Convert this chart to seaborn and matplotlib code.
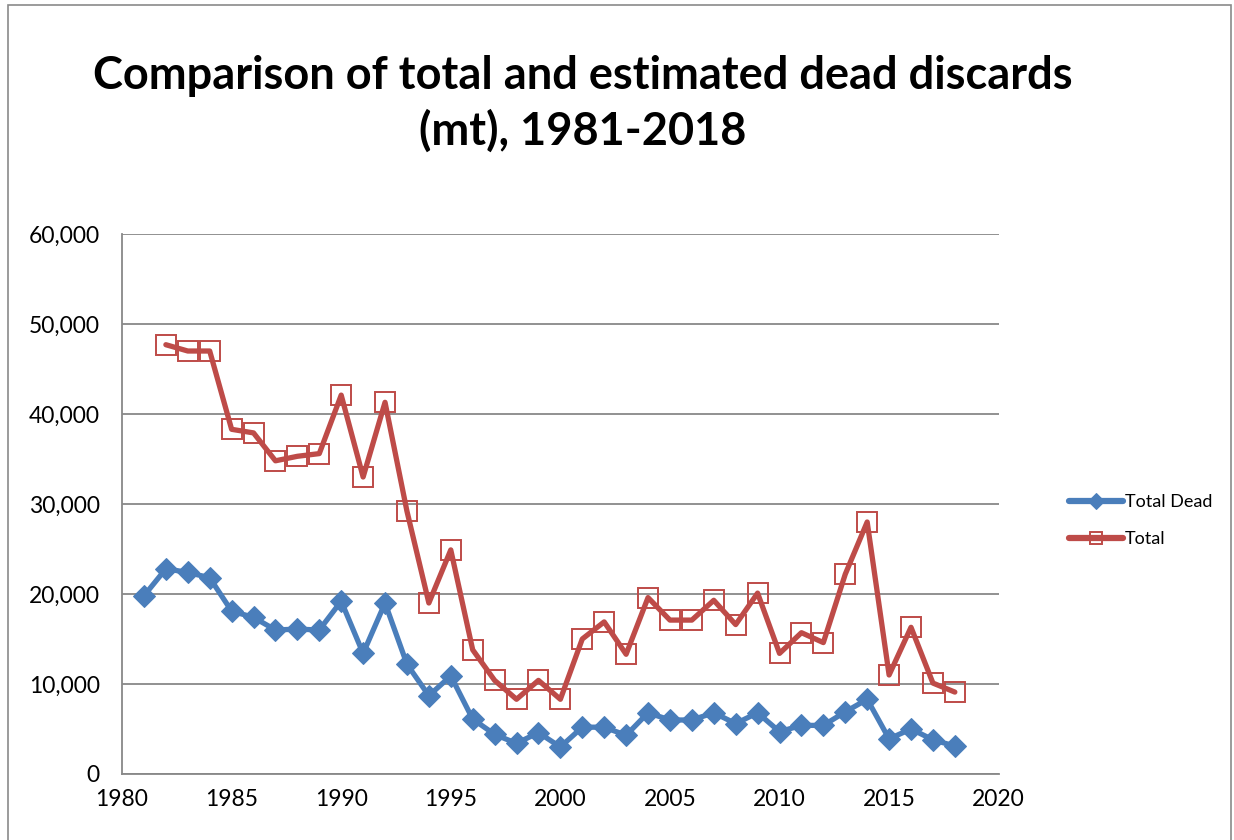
import numpy as np
import pandas as pd
import matplotlib
matplotlib.use('Agg')
import matplotlib.pyplot as plt
import matplotlib.ticker as mticker
from matplotlib.patches import Rectangle
import seaborn as sns

# values (mt)
dead_years = list(range(1981, 2019))
total_dead = [19800, 22800, 22400, 21800, 18100, 17400, 16000, 16100, 16000, 19200,
              13400, 19000, 12200, 8700, 10900, 6100, 4400, 3400, 4600, 3000,
              5200, 5200, 4300, 6800, 6000, 6000, 6800, 5600, 6800, 4700,
              5400, 5400, 6900, 8300, 3900, 5000, 3800, 3100]
total_years = list(range(1982, 2019))
total = [47700, 47000, 47000, 38300, 37900, 34800, 35300, 35600, 42100,
         33000, 41300, 29200, 19000, 24900, 13800, 10400, 8300, 10400, 8300,
         15000, 16900, 13300, 19600, 17100, 17100, 19300, 16600, 20100, 13400,
         15700, 14600, 22200, 28000, 11000, 16300, 10100, 9100]

blue = '#4A7EBB'
red = '#BE4B48'
grid_grey = '#888888'

sns.set_style('white')
plt.rcParams['font.family'] = ['Lato', 'DejaVu Sans']
plt.rcParams['text.color'] = 'black'

fig = plt.figure(figsize=(12.34, 8.40), dpi=100)
ax = fig.add_axes([0.0989, 0.0786, 0.7104, 0.6428])

df_dead = pd.DataFrame({'year': dead_years, 'value': total_dead})
df_total = pd.DataFrame({'year': total_years, 'value': total})

sns.lineplot(data=df_dead, x='year', y='value', ax=ax, color=blue, linewidth=3.8,
             marker='D', markersize=11, markeredgecolor=blue, label='Total Dead')
sns.lineplot(data=df_total, x='year', y='value', ax=ax, color=red, linewidth=3.8,
             marker='s', markersize=15, markerfacecolor='none',
             markeredgecolor=red, markeredgewidth=1.4, label='Total')

ax.set_xlim(1980, 2020)
ax.set_ylim(0, 60000)
ax.xaxis.set_major_locator(mticker.MultipleLocator(5))
ax.yaxis.set_major_locator(mticker.MultipleLocator(10000))
ax.yaxis.set_major_formatter(mticker.FuncFormatter(lambda v, p: f'{int(v):,}'))
ax.set_xlabel('')
ax.set_ylabel('')

ax.grid(axis='y', color=grid_grey, linewidth=1.3)
ax.set_axisbelow(True)
for side in ['top', 'right']:
    ax.spines[side].set_visible(False)
for side in ['left', 'bottom']:
    ax.spines[side].set_color(grid_grey)
    ax.spines[side].set_linewidth(1.3)
ax.tick_params(axis='both', which='major', direction='out', length=6,
               width=1.3, color=grid_grey, labelsize=16.5, labelcolor='black', pad=5)
ax.tick_params(axis='y', pad=10)

leg = ax.legend(loc='center left', bbox_to_anchor=(0.853, 0.38),
                bbox_transform=fig.transFigure, frameon=False, fontsize=13,
                handlelength=3.0, handletextpad=0.1, labelspacing=1.15)
for t in leg.get_texts():
    t.set_color('black')
for h in leg.get_lines():
    h.set_markersize(8)
    h.set_linewidth(4.5)

fig.suptitle('Comparison of total and estimated dead discards\n(mt), 1981-2018',
             x=0.472, y=0.935, fontsize=32.5, fontweight='bold', linespacing=1.36,
             color='black')

fig.patches.append(Rectangle((0.0065, -0.01), 0.991, 1.004, transform=fig.transFigure,
                             fill=False, edgecolor='#8a8a8a', linewidth=1.2))

fig.savefig('out.png', dpi=100)
